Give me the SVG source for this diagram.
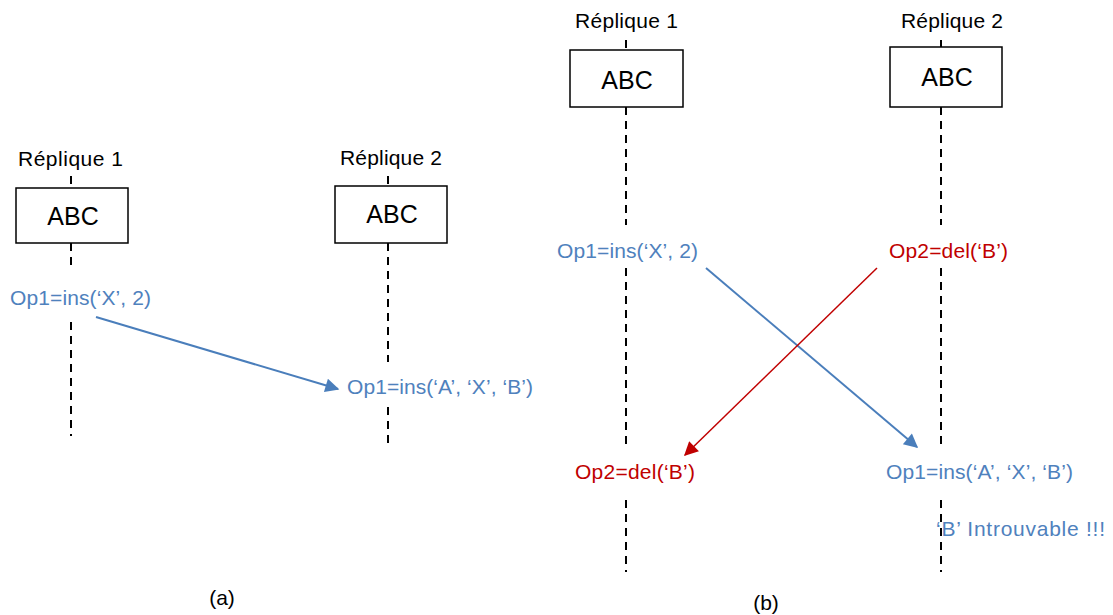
<svg xmlns="http://www.w3.org/2000/svg" width="1113" height="615" viewBox="0 0 1113 615">
<defs>
<style>
text{font-family:"Liberation Sans",Arial,sans-serif;font-size:21px;}
.lbl{fill:#000;}
.abc{font-size:25px;text-anchor:middle;fill:#000;}
.blue{fill:#4F81BD;}
.red{fill:#C00000;}
.life{stroke:#000;stroke-width:2;stroke-dasharray:8,6;fill:none;}
.box{fill:#fff;stroke:#000;stroke-width:1.5;}
.ab{stroke:#4A7EBB;stroke-width:2;fill:none;}
.ar{stroke:#C00000;stroke-width:1.5;fill:none;}
</style>
<marker id="mbl" viewBox="0 0 10 10" refX="9" refY="5" markerWidth="18" markerHeight="14" markerUnits="userSpaceOnUse" orient="auto"><path d="M0,0 L10,5 L0,10 z" fill="#4A7EBB"/></marker>
<marker id="mr" viewBox="0 0 10 10" refX="9" refY="5" markerWidth="18" markerHeight="14" markerUnits="userSpaceOnUse" orient="auto"><path d="M0,0 L10,5 L0,10 z" fill="#C00000"/></marker>
</defs>
<g id="lifelines">
<path class="life" d="M71,176V188 M71,243V270 M71,322V436"/>
<path class="life" d="M388,176V186 M388,243V362 M388,407V443"/>
<path class="life" d="M626,40V50 M626,107V225 M626,268V445 M626,500V572"/>
<path class="life" d="M941,40V47 M941,107V225 M941,268V445 M941,500V572"/>
</g>
<g id="a-rep1">
<text class="lbl" x="18" y="166" textLength="105" lengthAdjust="spacing">Réplique 1</text>
<rect class="box" x="16" y="188" width="112" height="55"/>
<text class="abc" x="73" y="225">ABC</text>
</g>
<g id="a-rep2">
<text class="lbl" x="340" y="165" textLength="102" lengthAdjust="spacing">Réplique 2</text>
<rect class="box" x="335" y="186" width="112" height="57"/>
<text class="abc" x="392" y="223">ABC</text>
</g>
<g id="a-op1"><text class="blue" x="10" y="305" textLength="141" lengthAdjust="spacing">Op1=ins(‘X’, 2)</text></g>
<g id="a-op1r"><text class="blue" x="347" y="394" textLength="186" lengthAdjust="spacing">Op1=ins(‘A’, ‘X’, ‘B’)</text></g>
<g id="b-rep1">
<text class="lbl" x="575" y="28" textLength="103" lengthAdjust="spacing">Réplique 1</text>
<rect class="box" x="570" y="50" width="113" height="57"/>
<text class="abc" x="627" y="89">ABC</text>
</g>
<g id="b-rep2">
<text class="lbl" x="901" y="28" textLength="102" lengthAdjust="spacing">Réplique 2</text>
<rect class="box" x="890" y="47" width="112" height="60"/>
<text class="abc" x="947" y="86">ABC</text>
</g>
<g id="b-op1"><text class="blue" x="557" y="258" textLength="141" lengthAdjust="spacing">Op1=ins(‘X’, 2)</text></g>
<g id="b-op2"><text class="red" x="889" y="258" textLength="119" lengthAdjust="spacing">Op2=del(‘B’)</text></g>
<g id="b-op2r"><text class="red" x="575" y="479" textLength="120" lengthAdjust="spacing">Op2=del(‘B’)</text></g>
<g id="b-op1r"><text class="blue" x="886" y="479" textLength="187" lengthAdjust="spacing">Op1=ins(‘A’, ‘X’, ‘B’)</text></g>
<g id="b-err"><text class="blue" x="936" y="536" textLength="169" lengthAdjust="spacing">‘B’ Introuvable !!!</text></g>
<g id="connectors">
<line class="ab" x1="96" y1="317" x2="338" y2="389" marker-end="url(#mbl)"/>
<line class="ab" x1="706" y1="268" x2="917" y2="447" marker-end="url(#mbl)"/>
<line class="ar" x1="877" y1="268" x2="685" y2="455" marker-end="url(#mr)"/>
</g>
<g id="captions">
<text class="lbl" x="222" y="605" text-anchor="middle">(a)</text>
<text class="lbl" x="766" y="610" text-anchor="middle">(b)</text>
</g>
</svg>
